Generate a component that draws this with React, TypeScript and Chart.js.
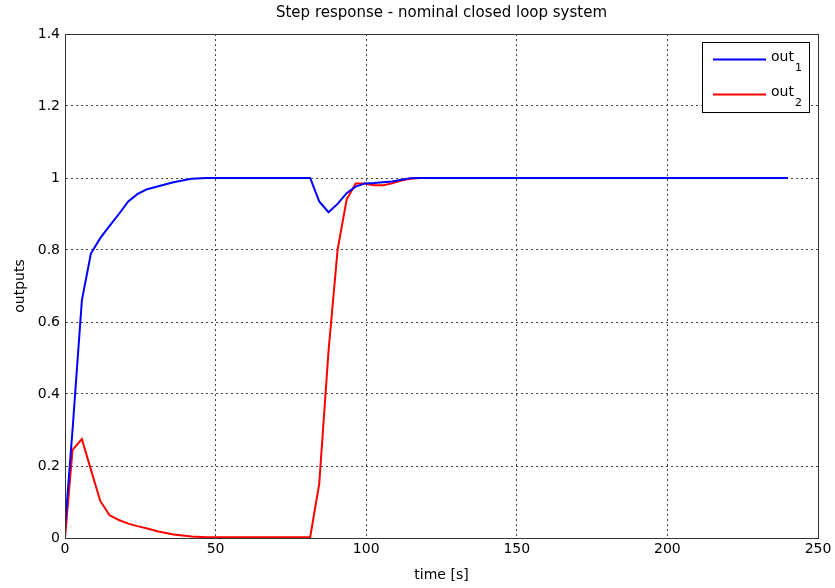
import React, { useEffect, useRef } from "react";
import { Chart, registerables } from "chart.js";

Chart.register(...registerables);

const times = [0, 2.5, 5.6, 8.6, 11.7, 14.8, 17.9, 21, 24, 27, 31, 36, 42, 47, 50, 81.4, 84.4, 87.5, 90.5, 93.5, 96.5, 99.6, 102.6, 105.6, 108.6, 111.6, 114.6, 117.6, 240];
const out1 = [0.03, 0.3, 0.66, 0.79, 0.833, 0.867, 0.9, 0.935, 0.955, 0.968, 0.977, 0.988, 0.998, 1.0, 1.0, 1.0, 0.935, 0.905, 0.928, 0.958, 0.976, 0.985, 0.986, 0.988, 0.99, 0.995, 0.999, 1.0, 1.0];
const out2 = [0, 0.245, 0.275, 0.19, 0.103, 0.063, 0.05, 0.04, 0.033, 0.027, 0.018, 0.01, 0.004, 0.002, 0.002, 0.002, 0.15, 0.52, 0.8, 0.94, 0.985, 0.985, 0.98, 0.98, 0.985, 0.993, 0.998, 1.0, 1.0];
const seriesNames = ["out", "out"];
const seriesSubs = ["1", "2"];
const seriesColors = ["#0000ff", "#ff0000"];
const xTicks = [0, 50, 100, 150, 200, 250];
const yTicks = [0, 0.2, 0.4, 0.6, 0.8, 1, 1.2, 1.4];
const titleText = "Step response - nominal closed loop system";
const xLabel = "time [s]";
const yLabel = "outputs";

const FONT = '"DejaVu Sans", "Liberation Sans", Arial, sans-serif';

const decorPlugin = {
  id: "decor",
  afterDraw(chart: any) {
    const { ctx, chartArea } = chart;
    const { left, top, right, bottom } = chartArea;
    ctx.save();
    // full box
    ctx.strokeStyle = "#333";
    ctx.lineWidth = 1;
    ctx.setLineDash([]);
    ctx.strokeRect(Math.round(left) + 0.5, Math.round(top) + 0.5, Math.round(right - left), Math.round(bottom - top));
    // title
    ctx.fillStyle = "#000";
    ctx.font = "15px " + FONT;
    ctx.textAlign = "center";
    ctx.textBaseline = "middle";
    ctx.fillText(titleText, (left + right) / 2, 13);
    // axis titles
    ctx.font = "14px " + FONT;
    ctx.fillText(xLabel, (left + right) / 2, 575);
    ctx.save();
    ctx.translate(20, (top + bottom) / 2);
    ctx.rotate(-Math.PI / 2);
    ctx.fillText(yLabel, 0, 0);
    ctx.restore();
    // legend
    const lx = 702.5, ly = 42.5, lw = 107, lh = 70;
    ctx.fillStyle = "#fff";
    ctx.fillRect(lx, ly, lw, lh);
    ctx.strokeStyle = "#000";
    ctx.lineWidth = 1;
    ctx.strokeRect(lx, ly, lw, lh);
    const rows = [59.5, 94.5];
    rows.forEach((yy, i) => {
      ctx.strokeStyle = seriesColors[i];
      ctx.lineWidth = 2;
      ctx.beginPath();
      ctx.moveTo(713, yy);
      ctx.lineTo(766, yy);
      ctx.stroke();
      ctx.fillStyle = "#000";
      ctx.textAlign = "left";
      ctx.textBaseline = "middle";
      ctx.font = "14px " + FONT;
      ctx.fillText(seriesNames[i], 771, yy - 2);
      const w = ctx.measureText(seriesNames[i]).width;
      ctx.font = "11px " + FONT;
      ctx.fillText(seriesSubs[i], 771 + w + 1, yy + 9);
    });
    ctx.restore();
  },
};

export default function App() {
  const ref = useRef<HTMLCanvasElement>(null);
  useEffect(() => {
    document.body.style.margin = "0";
    const ctx = ref.current!.getContext("2d")!;
    const mk = (vals: number[]) => times.map((t, i) => ({ x: t, y: vals[i] }));
    const chart = new Chart(ctx, {
      type: "line",
      data: {
        datasets: [
          { label: "out1", data: mk(out1), borderColor: seriesColors[0], borderWidth: 2, pointRadius: 0, tension: 0, fill: false },
          { label: "out2", data: mk(out2), borderColor: seriesColors[1], borderWidth: 2, pointRadius: 0, tension: 0, fill: false },
        ],
      },
      options: {
        animation: false,
        responsive: false,
        maintainAspectRatio: false,
        layout: { padding: { left: 0, top: 34, right: 17, bottom: 0 } },
        plugins: { legend: { display: false }, title: { display: false }, tooltip: { enabled: false } },
        scales: {
          x: {
            type: "linear",
            min: 0,
            max: 250,
            afterBuildTicks: (s: any) => { s.ticks = xTicks.map((v) => ({ value: v })); },
            afterFit: (s: any) => { s.height = 50; },
            ticks: { color: "#000", font: { family: FONT, size: 14 }, padding: 3, maxRotation: 0 },
            grid: { color: "#444", drawTicks: false, lineWidth: 1 },
            border: { display: true, color: "#333", dash: [2, 3] },
          },
          y: {
            type: "linear",
            min: 0,
            max: 1.4,
            afterBuildTicks: (s: any) => { s.ticks = yTicks.map((v) => ({ value: v })); },
            afterFit: (s: any) => { s.width = 65; },
            ticks: {
              color: "#000",
              font: { family: FONT, size: 14 },
              padding: 5,
              callback: (v: any) => String(Math.round(Number(v) * 10) / 10),
            },
            grid: { color: "#444", drawTicks: false, lineWidth: 1 },
            border: { display: true, color: "#333", dash: [2, 3] },
          },
        },
      },
      plugins: [decorPlugin],
    });
    return () => chart.destroy();
  }, []);
  return (
    <div style={{ width: 835, height: 588, position: "relative" }}>
      <canvas ref={ref} width={835} height={588} style={{ display: "block" }} />
    </div>
  );
}
